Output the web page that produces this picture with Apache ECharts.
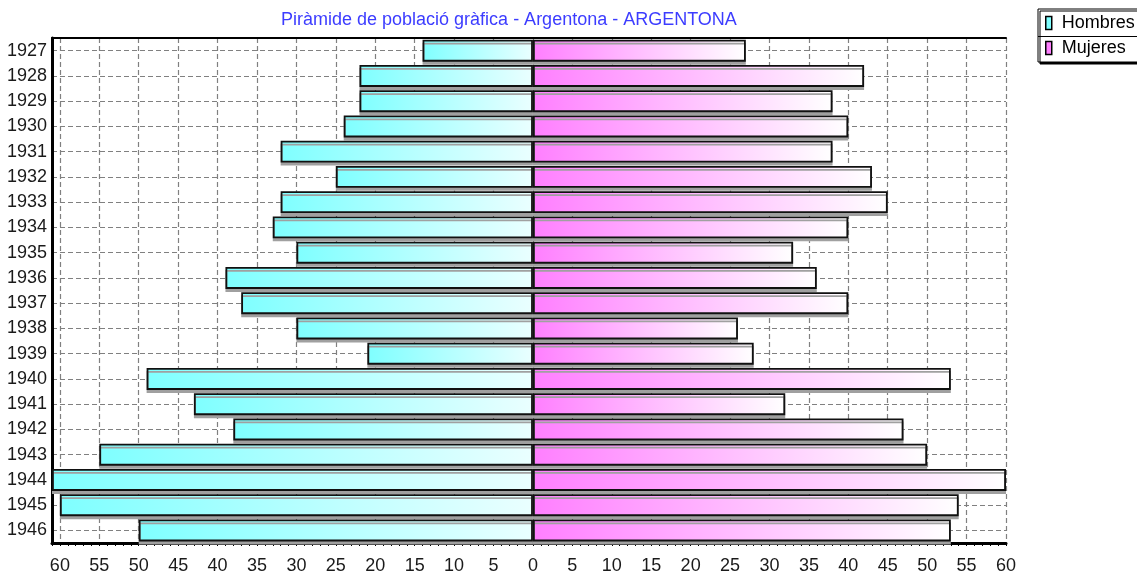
<!DOCTYPE html>
<html>
<head>
<meta charset="utf-8">
<title>Piràmide de població</title>
<script src="https://cdn.jsdelivr.net/npm/echarts@6/dist/echarts.min.js"></script>
<style>
    html, body { margin: 0; padding: 0; background: #fff; }
    #piramide-chart { width: 1137px; height: 575px; }
</style>
</head>
<body>
<div id="piramide-chart"></div>
<script>

var anys = ['1927', '1928', '1929', '1930', '1931', '1932', '1933', '1934', '1935', '1936',
    '1937', '1938', '1939', '1940', '1941', '1942', '1943', '1944', '1945', '1946'];
var hombres = [14, 22, 22, 24, 32, 25, 32, 33, 30, 39, 37, 30, 21, 49, 43, 38, 55, 61, 60, 50];
var mujeres = [27, 42, 38, 40, 38, 43, 45, 40, 33, 36, 40, 26, 28, 53, 32, 47, 50, 60, 54, 53];
var xTicks = [-60, -55, -50, -45, -40, -35, -30, -25, -20, -15, -10, -5, 0,
    5, 10, 15, 20, 25, 30, 35, 40, 45, 50, 55, 60];

var piramide_chart = echarts.init(document.getElementById('piramide-chart'));

var fontFam = '"Liberation Sans", Arial, sans-serif';

piramide_chart.setOption({
    animation: false,
    title: {
        text: 'Piràmide de població gràfica - Argentona - ARGENTONA',
        left: 276,
        top: 6,
        textStyle: {
            color: '#3c3cff',
            fontSize: 18,
            fontWeight: 'normal',
            fontFamily: fontFam
        }
    },
    legend: {
        orient: 'vertical',
        left: 1038,
        top: 9,
        padding: [5, 8, 5, 7],
        itemGap: 7,
        itemWidth: 6,
        itemHeight: 13,
        backgroundColor: '#fff',
        borderColor: '#000',
        borderWidth: 1,
        shadowColor: '#000',
        shadowOffsetX: 2,
        shadowOffsetY: 2,
        textStyle: { color: '#000', fontSize: 18, fontFamily: fontFam, padding: [0, 0, 0, 5] },
        data: [
            { name: 'Hombres', icon: 'rect', itemStyle: { color: '#7fffff', borderColor: '#000', borderWidth: 1.5 } },
            { name: 'Mujeres', icon: 'rect', itemStyle: { color: '#ff7fff', borderColor: '#000', borderWidth: 1.5 } }
        ]
    },
    graphic: [
        { type: 'line', z: 100, shape: { x1: 1038, y1: 36.5, x2: 1137, y2: 36.5 }, style: { stroke: '#000', lineWidth: 1 } }
    ],
    grid: {
        left: 52,
        right: 131,
        top: 38,
        bottom: 32
    },
    xAxis: [
        {
            type: 'value',
            min: -61,
            max: 60,
            axisLine: { show: true, onZero: false, lineStyle: { color: '#000', width: 3 } },
            axisTick: { customValues: xTicks, length: 6, lineStyle: { color: '#000' } },
            axisLabel: {
                customValues: xTicks,
                margin: 14,
                color: '#1a1a1a',
                fontSize: 18,
                fontFamily: fontFam,
                formatter: function (v) { return Math.abs(v); }
            },
            splitLine: { show: true, lineStyle: { color: '#808080', type: [5, 3], width: 1.2 } }
        },
        {
            // ticks menors cada unitat
            type: 'value',
            min: -61,
            max: 60,
            interval: 1,
            position: 'bottom',
            axisLine: { show: false },
            axisTick: { show: true, length: 3, lineStyle: { color: '#000' } },
            axisLabel: { show: false },
            splitLine: { show: false }
        },
        {
            type: 'value',
            min: -61,
            max: 60,
            position: 'top',
            axisLine: { show: true, onZero: false, lineStyle: { color: '#000', width: 2 } },
            axisTick: { show: false },
            axisLabel: { show: false },
            splitLine: { show: false }
        }
    ],
    yAxis: {
        type: 'category',
        inverse: true,
        data: anys,
        axisLine: { show: true, onZero: false, lineStyle: { color: '#000', width: 3 } },
        axisTick: { alignWithLabel: true, length: 4, lineStyle: { color: '#000' } },
        axisLabel: { margin: 5, color: '#1a1a1a', fontSize: 18, fontFamily: fontFam },
        splitLine: { show: true, alignWithLabel: true, lineStyle: { color: '#808080', type: [5, 3], width: 1.2 } }
    },
    series: [
        {
            name: 'Hombres',
            type: 'bar',
            barWidth: 22,
            barGap: '-100%',
            itemStyle: {
                color: new echarts.graphic.LinearGradient(0, 0, 1, 0, [
                    { offset: 0, color: '#7fffff' },
                    { offset: 1, color: '#eaffff' }
                ]),
                borderColor: '#111',
                borderWidth: 1.8,
                shadowColor: '#a0a0a0',
                shadowOffsetY: 3
            },
            data: hombres.map(function (v) { return -v; })
        },
        {
            name: 'Mujeres',
            type: 'bar',
            barWidth: 22,
            barGap: '-100%',
            itemStyle: {
                color: new echarts.graphic.LinearGradient(0, 0, 1, 0, [
                    { offset: 0, color: '#ff7fff' },
                    { offset: 1, color: '#ffffff' }
                ]),
                borderColor: '#111',
                borderWidth: 1.8,
                shadowColor: '#a0a0a0',
                shadowOffsetY: 3
            },
            data: mujeres
        }
    ]
});

</script>
</body>
</html>
